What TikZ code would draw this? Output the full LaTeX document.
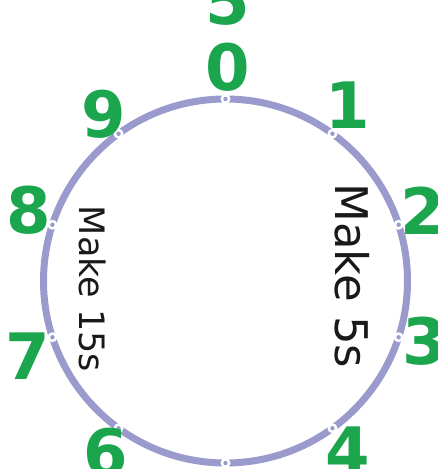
\documentclass[tikz,border=0pt]{standalone}
\usepackage{fontspec}
\setmainfont{DejaVu Sans}
\usetikzlibrary{calc}
\begin{document}
\begin{tikzpicture}[x=1pt,y=1pt,
  ring/.style={draw=ringc,line width=7pt},
  tick/.style={circle,fill=white,minimum size=10pt,inner sep=0pt,
    path picture={\fill[ringc] (path picture bounding box.center) circle (2.2pt);}},
  num/.style={text=numc,font=\fontsize{64}{64}\selectfont\bfseries,inner sep=0pt},
  lab/.style={text=black!90,inner sep=0pt,rotate=-90}]
\definecolor{ringc}{HTML}{9A9ACD}
\definecolor{numc}{HTML}{1BA64E}
\useasboundingbox (0,0) rectangle (438,469);
\coordinate (c) at (225.5,188);
\draw[ring] (c) circle (182);
\foreach \i in {0,...,9}{
  \node[tick] (p\i) at ($(c)+({90-36*\i}:182)$) {};
}
\node[num] (l0) at (228,402) {0};
\node[num] (l5) at (228,467) {5};
\node[num] (l1) at (348,364) {1};
\node[num] (l2) at (423,258) {2};
\node[num] (l3) at (425,128) {3};
\node[num] (l4) at (348,19) {4};
\node[num] (l6) at (106,17) {6};
\node[num] (l7) at (28,113) {7};
\node[num] (l8) at (29,259) {8};
\node[num] (l9) at (104,355) {9};
\node[lab,font=\fontsize{45}{45}\selectfont] (t5) at (352,193) {Make 5s};
\node[lab,font=\fontsize{35}{35}\selectfont] (t15) at (93,180) {Make 15s};
\end{tikzpicture}
\end{document}
